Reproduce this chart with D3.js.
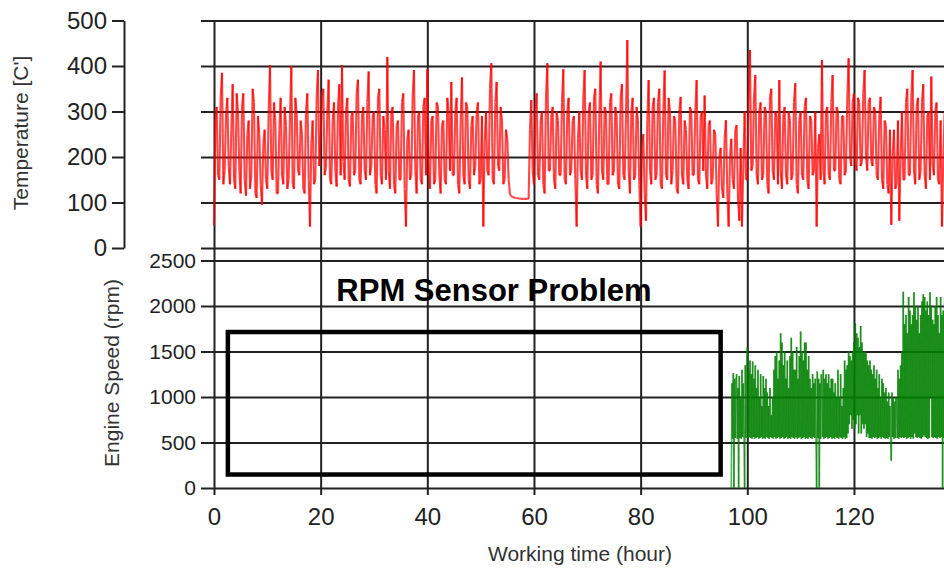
<!DOCTYPE html>
<html>
<head>
<meta charset="utf-8">
<script src="https://cdn.jsdelivr.net/npm/d3@7"></script>
<style>
  body { margin: 0; background: #fff; }
  text { font-family: "Liberation Sans", Arial, sans-serif; fill: #222; }
  .grid line { stroke: #222; stroke-width: 2; }
  .grid path { display: none; }
</style>
</head>
<body>
<svg id="chart"></svg>
<script>
// temperature, one reading every quarter hour from hour 0
var tempStart = 0, tempStep = 0.25
var temperature = [
  50, 280, 310, 160, 150, 330, 385, 140, 170, 290, 330, 180, 140, 260, 360, 150, 130, 340, 300, 170,
  120, 310, 340, 150, 115, 250, 280, 130, 160, 350, 320, 120, 110, 290, 250, 140, 95, 230, 260, 150,
  130, 300, 402, 170, 150, 320, 280, 120, 120, 260, 330, 160, 140, 310, 270, 130, 150, 290, 400, 140,
  130, 330, 300, 170, 160, 280, 250, 130, 120, 300, 340, 150, 47, 230, 280, 140, 150, 330, 391, 180,
  250, 330, 350, 160, 180, 300, 370, 150, 140, 280, 320, 170, 135, 310, 360, 160, 402, 190, 150, 300,
  330, 150, 135, 290, 300, 160, 170, 340, 370, 150, 140, 290, 310, 170, 150, 320, 388, 160, 180, 290,
  300, 140, 120, 330, 350, 160, 140, 290, 260, 150, 420, 170, 130, 300, 310, 140, 120, 270, 280, 150,
  150, 320, 340, 130, 47, 240, 260, 150, 160, 330, 391, 170, 120, 290, 300, 150, 140, 310, 330, 160,
  393, 170, 130, 280, 290, 140, 150, 320, 310, 160, 120, 270, 280, 150, 140, 330, 300, 170, 365, 160,
  160, 300, 330, 140, 120, 280, 375, 160, 140, 320, 310, 150, 130, 270, 290, 160, 180, 300, 320, 140,
  150, 290, 47, 230, 300, 170, 160, 350, 406, 150, 140, 320, 365, 180, 170, 310, 280, 140, 150, 260,
  240, 150, 118, 114, 112, 111, 110, 110, 109, 109, 108, 108, 108, 108, 108, 108, 108, 260, 325, 170,
  140, 300, 340, 160, 150, 280, 300, 140, 120, 330, 406, 170, 170, 290, 310, 150, 130, 300, 280, 160,
  160, 320, 393, 150, 140, 300, 330, 160, 170, 280, 290, 150, 47, 240, 300, 170, 150, 330, 391, 160,
  130, 300, 320, 150, 160, 330, 350, 140, 120, 290, 410, 170, 150, 310, 300, 140, 140, 320, 340, 160,
  170, 310, 290, 140, 130, 330, 360, 160, 150, 290, 457, 170, 120, 300, 330, 150, 160, 310, 280, 140,
  47, 220, 250, 120, 60, 280, 369, 170, 140, 310, 330, 150, 160, 320, 350, 140, 130, 300, 390, 160,
  150, 330, 300, 140, 170, 290, 280, 130, 120, 300, 332, 160, 140, 280, 260, 150, 130, 310, 300, 160,
  160, 300, 369, 150, 140, 290, 300, 170, 335, 160, 130, 270, 280, 140, 150, 260, 250, 120, 47, 200,
  220, 130, 110, 240, 281, 120, 47, 200, 240, 150, 130, 260, 270, 110, 60, 220, 47, 180, 300, 150,
  150, 320, 435, 170, 180, 330, 380, 160, 140, 300, 320, 150, 160, 310, 300, 140, 120, 330, 350, 170,
  150, 300, 290, 140, 369, 170, 130, 290, 310, 160, 140, 300, 280, 150, 160, 320, 362, 140, 120, 280,
  300, 160, 150, 310, 330, 150, 130, 290, 280, 160, 170, 300, 47, 220, 250, 150, 413, 170, 140, 300,
  310, 160, 150, 320, 380, 170, 170, 310, 300, 150, 140, 290, 290, 160, 170, 330, 417, 200, 180, 320,
  340, 190, 170, 330, 320, 180, 190, 340, 391, 200, 170, 320, 330, 190, 180, 310, 300, 160, 150, 290,
  332, 150, 130, 280, 270, 140, 120, 260, 51, 200, 260, 130, 140, 280, 60, 200, 300, 150, 150, 320,
  350, 160, 160, 330, 391, 170, 140, 310, 330, 150, 170, 320, 360, 160, 130, 290, 300, 150, 377, 180,
  160, 300, 320, 150, 140, 280, 47, 200, 300
]

// engine speed, only recorded after the sensor came back (every eighth of an hour)
var rpmStart = 97, rpmStep = 0.125
var engineSpeed = [
  0, 1150, 540, 1263, 0, 1200, 550, 1180,
  1250, 540, 1100, 0, 1230, 550, 980, 540,
  1300, 560, 1150, 540, 0, 1350, 550, 1200,
  1538, 540, 1300, 560, 1400, 550, 1250, 540,
  1390, 560, 1200, 540, 1350, 550, 1100, 560,
  1300, 540, 1000, 550, 1250, 560, 900, 540,
  1230, 550, 1100, 540, 1200, 560, 1050, 550,
  900, 540, 1100, 560, 800, 550, 1000, 540,
  1300, 560, 1450, 540, 1500, 550, 1200, 560,
  1400, 540, 1700, 550, 1600, 560, 1350, 540,
  1500, 550, 1200, 560, 1400, 540, 1100, 550,
  1450, 540, 1650, 560, 1500, 550, 1300, 540,
  1300, 560, 1550, 540, 1200, 550, 1450, 560,
  1720, 540, 1500, 550, 1400, 560, 1600, 540,
  1600, 550, 1300, 540, 1450, 560, 1200, 550,
  1100, 540, 1250, 560, 1150, 550, 1200, 540,
  0, 1280, 550, 1200, 0, 1150, 540, 1250,
  1100, 560, 1300, 540, 1200, 550, 1250, 560,
  1150, 540, 1250, 550, 1100, 560, 1200, 540,
  1200, 550, 1050, 540, 1150, 560, 1000, 550,
  1300, 540, 1000, 560, 1250, 550, 900, 540,
  1100, 560, 1400, 540, 1300, 550, 1350, 600,
  1500, 700, 1450, 800, 1400, 650, 1500, 750,
  1600, 650, 1810, 700, 1700, 800, 1650, 600,
  1550, 800, 1780, 600, 1600, 700, 1500, 650,
  1500, 700, 1480, 560, 1400, 600, 1350, 550,
  1400, 550, 1300, 540, 1250, 560, 1350, 550,
  1200, 560, 1300, 540, 1100, 550, 1250, 560,
  1000, 540, 1200, 560, 1150, 550, 1050, 540,
  1100, 550, 950, 540, 1050, 560, 900, 550,
  300, 1050, 560, 1000, 540, 950, 550, 1000,
  900, 550, 1300, 540, 1200, 560, 1350, 550,
  1500, 560, 2157, 550, 1800, 560, 1900, 540,
  1700, 550, 2100, 560, 1950, 540, 1800, 560,
  1900, 540, 2150, 600, 2000, 560, 1850, 550,
  2000, 560, 1700, 550, 1900, 540, 2050, 560,
  2130, 580, 2100, 560, 1950, 550, 2050, 540,
  1900, 550, 2150, 1000, 2000, 560, 1850, 550,
  1800, 560, 2000, 550, 2100, 540, 1900, 560,
  1700, 550, 2100, 560, 1900, 0, 1950, 550,
  2100
]

var hourTicks = [0, 20, 40, 60, 80, 100, 120]
var tempTicks = [0, 100, 200, 300, 400, 500]
var rpmTicks = [0, 500, 1000, 1500, 2000, 2500]

// annotation box over the missing rpm period
var problemLabel = 'RPM Sensor Problem'
var problemBox = { x0: 2.6, x1: 95, y0: 148, y1: 1714 }
var problemLabelAt = { x: 52.5, y: 2055 }

var width = 944, height = 570
var svg = d3.select('#chart').attr('width', width).attr('height', height)

var x = d3.scaleLinear().domain([0, 140]).range([214, 214 + 140 * 5.333])
var yTemp = d3.scaleLinear().domain([0, 500]).range([248, 20.5])
var yRpm = d3.scaleLinear().domain([0, 2500]).range([488, 260.5])

var gridLeft = 201, gridLen = width - gridLeft

// horizontal grid, top panel
svg.append('g')
    .attr('class', 'grid')
    .attr('transform', 'translate(' + gridLeft + ',0)')
    .call(d3.axisLeft(yTemp).tickValues(tempTicks).tickSize(-gridLen).tickFormat(''))

// horizontal grid + labels, bottom panel
var rpmAxis = svg.append('g')
    .attr('class', 'grid')
    .attr('transform', 'translate(' + gridLeft + ',0)')
    .call(d3.axisLeft(yRpm).tickValues(rpmTicks).tickSize(-gridLen).tickPadding(5).tickFormat(d3.format('d')))
rpmAxis.selectAll('text').style('font-size', '21px').style('fill', '#222')

// vertical grid running through both panels, x labels below
var xAxis = svg.append('g')
    .attr('class', 'grid')
    .attr('transform', 'translate(0,' + yRpm(0) + ')')
    .call(d3.axisBottom(x).tickValues(hourTicks).tickSize(7).tickPadding(13))
xAxis.selectAll('.tick line').attr('y1', yTemp(500) - yRpm(0))
xAxis.selectAll('text').style('font-size', '24px').style('fill', '#222')

// separate temperature axis on the far left
var tempAxis = svg.append('g')
    .attr('transform', 'translate(124,0)')
    .call(d3.axisLeft(yTemp).tickValues(tempTicks).tickSize(12).tickSizeOuter(0).tickPadding(5))
tempAxis.selectAll('line').attr('stroke', '#222').attr('stroke-width', 2)
tempAxis.select('.domain').attr('stroke', '#222').attr('stroke-width', 2)
tempAxis.selectAll('text').style('font-size', '24px').style('fill', '#222')

// series, drawn segment by segment so dense parts get darker
var tempPts = temperature.map((v, i) => [tempStart + i * tempStep, v])
svg.append('g')
    .selectAll('line')
    .data(d3.pairs(tempPts))
    .enter().append('line')
    .attr('x1', (d) => x(d[0][0]))
    .attr('y1', (d) => yTemp(d[0][1]))
    .attr('x2', (d) => x(d[1][0]))
    .attr('y2', (d) => yTemp(d[1][1]))
    .attr('stroke', 'rgb(255,0,0)')
    .attr('stroke-opacity', 0.72)
    .attr('stroke-width', 2.1)

var rpmPts = engineSpeed.map((v, i) => [rpmStart + i * rpmStep, v])
svg.append('g')
    .selectAll('line')
    .data(d3.pairs(rpmPts))
    .enter().append('line')
    .attr('x1', (d) => x(d[0][0]))
    .attr('y1', (d) => yRpm(d[0][1]))
    .attr('x2', (d) => x(d[1][0]))
    .attr('y2', (d) => yRpm(d[1][1]))
    .attr('stroke', 'rgb(0,128,0)')
    .attr('stroke-opacity', 0.65)
    .attr('stroke-width', 1.6)

// annotation
svg.append('rect')
    .attr('x', x(problemBox.x0))
    .attr('y', yRpm(problemBox.y1))
    .attr('width', x(problemBox.x1) - x(problemBox.x0))
    .attr('height', yRpm(problemBox.y0) - yRpm(problemBox.y1))
    .attr('fill', 'none')
    .attr('stroke', '#000')
    .attr('stroke-width', 4.5)

svg.append('text')
    .attr('x', x(problemLabelAt.x))
    .attr('y', yRpm(problemLabelAt.y))
    .attr('text-anchor', 'middle')
    .style('font-size', '31px')
    .style('font-weight', 'bold')
    .style('fill', '#000')
    .text(problemLabel)

// axis titles
svg.append('text')
    .attr('transform', 'translate(28,133) rotate(-90)')
    .attr('text-anchor', 'middle')
    .style('font-size', '21px')
    .style('fill', '#333')
    .text("Temperature [C']")

svg.append('text')
    .attr('transform', 'translate(119,373) rotate(-90)')
    .attr('text-anchor', 'middle')
    .style('font-size', '21px')
    .style('fill', '#333')
    .text('Engine Speed (rpm)')

svg.append('text')
    .attr('x', 580)
    .attr('y', 561)
    .attr('text-anchor', 'middle')
    .style('font-size', '21px')
    .style('fill', '#333')
    .text('Working time (hour)')
</script>
</body>
</html>
